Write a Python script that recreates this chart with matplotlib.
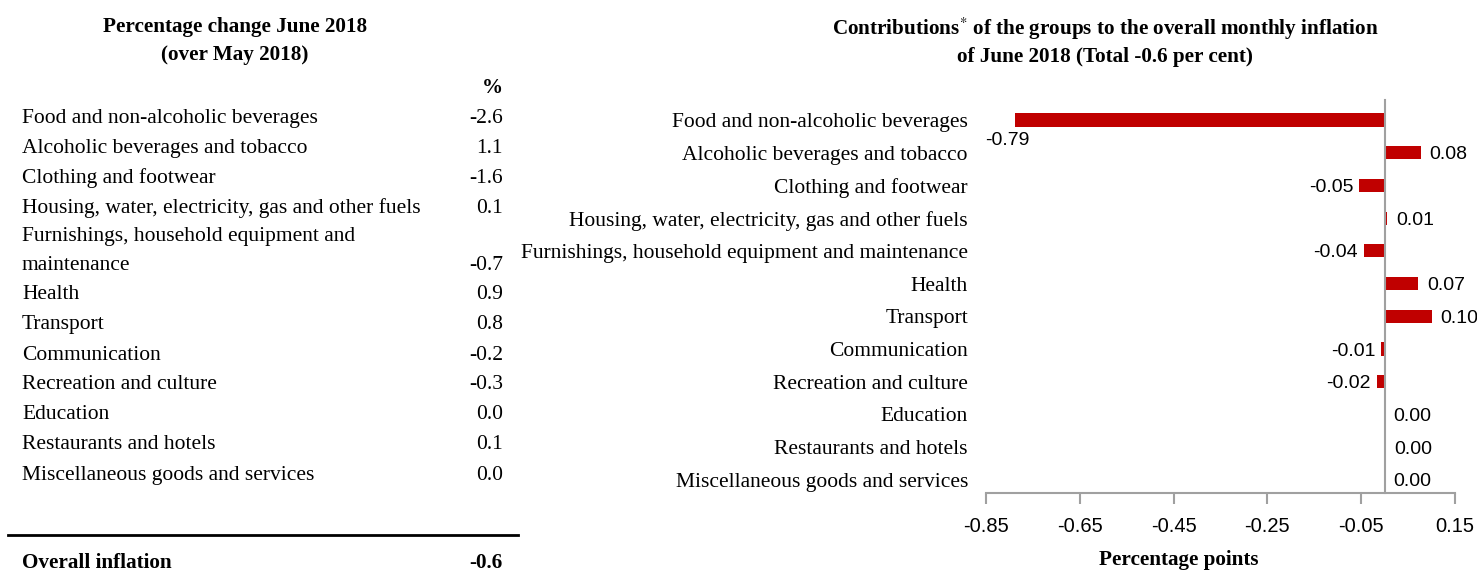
import matplotlib
matplotlib.use("Agg")
import matplotlib.pyplot as plt

# data
groups = [
    "Food and non-alcoholic beverages",
    "Alcoholic beverages and tobacco",
    "Clothing and footwear",
    "Housing, water, electricity, gas and other fuels",
    "Furnishings, household equipment and maintenance",
    "Health",
    "Transport",
    "Communication",
    "Recreation and culture",
    "Education",
    "Restaurants and hotels",
    "Miscellaneous goods and services",
]
pct_change = ["-2.6", "1.1", "-1.6", "0.1", "-0.7", "0.9", "0.8", "-0.2", "-0.3", "0.0", "0.1", "0.0"]
contrib = [-0.789, 0.077, -0.055, 0.006, -0.045, 0.072, 0.101, -0.008, -0.017, 0.0, 0.003, 0.0]
contrib_labels = ["-0.79", "0.08", "-0.05", "0.01", "-0.04", "0.07", "0.10", "-0.01", "-0.02", "0.00", "0.00", "0.00"]
overall = "-0.6"
xticks = [-0.85, -0.65, -0.45, -0.25, -0.05, 0.15]

W, H = 1477, 572
serif = "Liberation Serif"
sans = "Liberation Sans"
red = "#C00000"
grey = "#A0A0A0"
fs = 15.5      # body text
fs_t = 15.2    # titles

plt.rcParams["mathtext.fontset"] = "stix"
fig = plt.figure(figsize=(W / 100, H / 100), dpi=100)


def fx(px):
    return px / W


def fy(py):
    return 1 - py / H


# ---- left panel: table as text ----
fig.text(fx(235), fy(27), "Percentage change June 2018", ha="center", va="center",
         family=serif, fontsize=fs_t, fontweight="bold")
fig.text(fx(235), fy(55), "(over May 2018)", ha="center", va="center",
         family=serif, fontsize=fs_t, fontweight="bold")
fig.text(fx(503), fy(88), "%", ha="right", va="center", family=serif, fontsize=fs_t, fontweight="bold")

row_y = [116, 146, 176, 206, 263, 292, 322, 353, 382, 412, 442, 473]
for name, val, y in zip(groups, pct_change, row_y):
    if name.startswith("Furnishings"):
        fig.text(fx(22), fy(234), "Furnishings, household equipment and", ha="left",
                 va="center_baseline", family=serif, fontsize=fs)
        fig.text(fx(22), fy(263), "maintenance", ha="left", va="center_baseline",
                 family=serif, fontsize=fs)
    else:
        fig.text(fx(22), fy(y), name, ha="left", va="center_baseline", family=serif, fontsize=fs)
    fig.text(fx(503), fy(y), val, ha="right", va="center_baseline", family=serif, fontsize=fs)

fig.add_artist(plt.Line2D([fx(8), fx(518)], [fy(535), fy(535)], color="black", lw=2))
fig.text(fx(22), fy(560), "Overall inflation", ha="left", va="center_baseline", family=serif,
         fontsize=fs_t, fontweight="bold")
fig.text(fx(503), fy(560), overall, ha="right", va="center_baseline", family=serif,
         fontsize=fs_t, fontweight="bold")

# ---- right panel: bar chart ----
ax = fig.add_axes([fx(986), fy(493), fx(1455) - fx(986), fy(103.6) - fy(493)])
ypos = list(range(len(groups)))
ax.barh(ypos, contrib, height=0.4, color=red)
ax.axvline(0, ymax=1.01, color=grey, lw=1.5, zorder=3, clip_on=False)
ax.set_xlim(-0.85, 0.15)
ax.set_ylim(11.4, -0.5)
ax.set_xticks(xticks)
ax.set_xticklabels(["%.2f" % t for t in xticks], family=sans, fontsize=14.5)
ax.set_yticks(ypos)
ax.set_yticklabels(groups, family=serif, fontsize=fs)
ax.tick_params(axis="y", length=0, pad=13)
ax.tick_params(axis="x", length=8, width=1.5, color=grey, pad=9, direction="out")
for s in ["left", "top", "right"]:
    ax.spines[s].set_visible(False)
ax.spines["bottom"].set_color(grey)
ax.spines["bottom"].set_linewidth(1.5)

for i, (v, lab) in enumerate(zip(contrib, contrib_labels)):
    if i == 0:
        ax.annotate(lab, (v, i), xytext=(-5, -13), textcoords="offset points",
                    ha="center", va="center_baseline", family=sans, fontsize=14)
    elif v < 0:
        ax.annotate(lab, (v, i), xytext=(-4, 0), textcoords="offset points",
                    ha="right", va="center_baseline", family=sans, fontsize=14)
    else:
        ax.annotate(lab, (v, i), xytext=(6, 0), textcoords="offset points",
                    ha="left", va="center_baseline", family=sans, fontsize=14,
                    annotation_clip=False)

fig.text(fx(1105), fy(29), r"Contributions$^{*}$ of the groups to the overall monthly inflation",
         ha="center", va="center", family=serif, fontsize=fs_t, fontweight="bold")
fig.text(fx(1105), fy(57), "of June 2018 (Total -0.6 per cent)", ha="center", va="center",
         family=serif, fontsize=fs_t, fontweight="bold")
fig.text(fx(1179), fy(560), "Percentage points", ha="center", va="center", family=serif,
         fontsize=fs_t, fontweight="bold")

fig.savefig("out.png", dpi=100)
